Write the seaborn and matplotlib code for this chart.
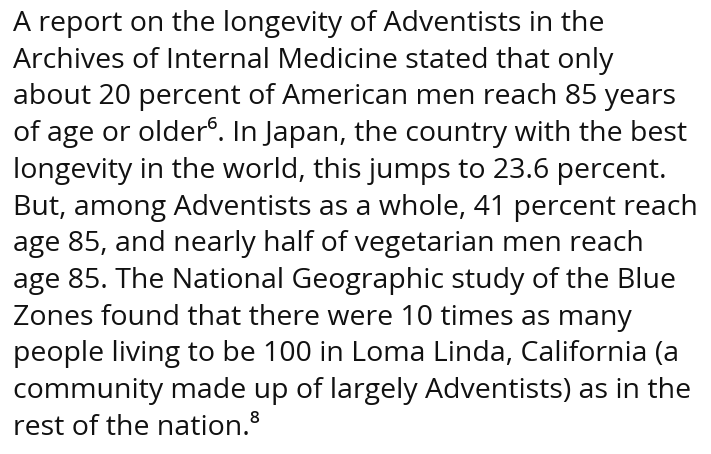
import matplotlib
matplotlib.use("Agg")
import matplotlib.pyplot as plt
import seaborn as sns

# ── Text content ──────────────────────────────────────────────────────────────
lines = [
    "A report on the longevity of Adventists in the",
    "Archives of Internal Medicine stated that only",
    "about 20 percent of American men reach 85 years",
    "of age or older\u2076. In Japan, the country with the best",
    "longevity in the world, this jumps to 23.6 percent.",
    "But, among Adventists as a whole, 41 percent reach",
    "age 85, and nearly half of vegetarian men reach",
    "age 85. The National Geographic study of the Blue",
    "Zones found that there were 10 times as many",
    "people living to be 100 in Loma Linda, California (a",
    "community made up of largely Adventists) as in the",
    "rest of the nation.\u2078",
]

sns.set_theme(style="white")
plt.rcParams["font.family"] = ["Open Sans", "DejaVu Sans"]

W, H = 711, 454
fig = plt.figure(figsize=(W / 100, H / 100), dpi=100)
fig.patch.set_facecolor("white")

x0 = 13
y0 = 31
step = 36.7
for i, line in enumerate(lines):
    fig.text(x0 / W, 1 - (y0 + i * step) / H, line, fontsize=20.5,
             color="#111111", ha="left", va="baseline")

fig.savefig("out.png", dpi=100)
